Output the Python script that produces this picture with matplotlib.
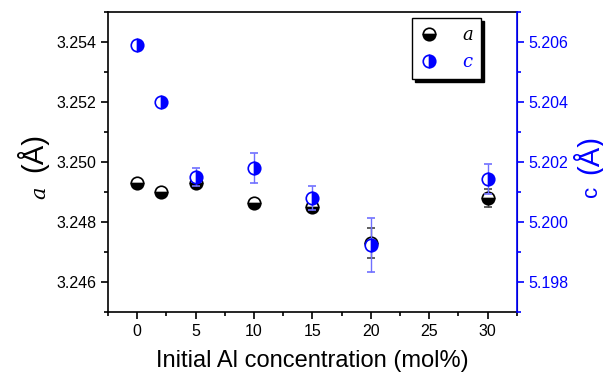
import matplotlib.pyplot as plt
from matplotlib.ticker import MultipleLocator

plt.rcParams['font.family'] = ['Liberation Sans', 'DejaVu Sans']
plt.rcParams['mathtext.fontset'] = 'stix'

# Al concentration (mol%)
conc = [0, 2, 5, 10, 15, 20, 30]
# lattice parameter a (left axis) and c (right axis), in Angstrom
a_val = [3.24931, 3.2490, 3.24929, 3.24862, 3.24851, 3.24729, 3.24879]
a_err = [0.00005, 0.00005, 0.0001, 0.00005, 0.0001, 0.0005, 0.0003]
c_val = [5.20591, 5.20401, 5.20151, 5.20181, 5.20081, 5.19922, 5.20142]
c_err = [0.0, 0.0, 0.0003, 0.0005, 0.0004, 0.0009, 0.0005]

fig = plt.figure(figsize=(6.03, 3.73), dpi=100)
ax = fig.add_axes([0.179, 0.1635, 0.678, 0.804])
ax2 = ax.twinx()

# a series, black circle with bottom half filled
ha = ax.errorbar(conc, a_val, yerr=a_err, fmt='o', color='black', ecolor='#444444',
                 elinewidth=1, capsize=3, markersize=9, fillstyle='bottom',
                 markerfacecoloralt='white', markeredgewidth=1.2, zorder=3)
# c series, blue circle with right half filled
hc = ax2.errorbar(conc, c_val, yerr=c_err, fmt='o', color='blue', ecolor='#6f6fff',
                  elinewidth=1, capsize=3, markersize=9, fillstyle='right',
                  markerfacecoloralt='white', markeredgewidth=1.2, zorder=3)

ax.set_xlim(-2.5, 32.5)
ax.set_ylim(3.245, 3.255)
ax2.set_ylim(5.197, 5.207)

ax.xaxis.set_major_locator(MultipleLocator(5))
ax.xaxis.set_minor_locator(MultipleLocator(2.5))
ax.yaxis.set_major_locator(MultipleLocator(0.002))
ax.yaxis.set_minor_locator(MultipleLocator(0.001))
ax2.yaxis.set_major_locator(MultipleLocator(0.002))
ax2.yaxis.set_minor_locator(MultipleLocator(0.001))
ax.yaxis.set_major_formatter(plt.FormatStrFormatter('%.3f'))
ax2.yaxis.set_major_formatter(plt.FormatStrFormatter('%.3f'))

ax.tick_params(which='both', direction='out', labelsize=11.5, width=1.2)
ax.tick_params(which='major', length=5)
ax.tick_params(which='minor', length=3)
ax2.tick_params(which='both', direction='out', labelsize=11.5, width=1.2,
                color='blue', labelcolor='blue')
ax2.tick_params(which='major', length=5)
ax2.tick_params(which='minor', length=3)

for s in ['left', 'bottom', 'top']:
    ax.spines[s].set_linewidth(1.2)
ax2.spines['right'].set_color('blue')
ax2.spines['right'].set_linewidth(1.2)
for s in ['left', 'bottom', 'top']:
    ax2.spines[s].set_visible(False)

ax.set_xlabel('Initial Al concentration (mol%)', fontsize=17, labelpad=8)

# axis titles built from two pieces: small symbol + larger unit
fig.text(40 / 603, 1 - 193 / 373, 'a', fontsize=15, family='serif', style='italic',
         rotation=90, ha='center', va='center')
fig.text(32 / 603, 1 - 152 / 373, '(Å)', fontsize=21, rotation=90,
         ha='center', va='center')
fig.text(592 / 603, 1 - 191 / 373, 'c', fontsize=16, color='blue',
         rotation=90, ha='center', va='center')
fig.text(588 / 603, 1 - 154 / 373, '(Å)', fontsize=21, color='blue', rotation=90,
         ha='center', va='center')

leg = ax2.legend([ha[0], hc[0]], ['a', 'c'], loc='upper right',
                 bbox_to_anchor=(0.912, 0.98), borderaxespad=0, frameon=True,
                 fancybox=False, shadow={'color': 'black', 'alpha': 1},
                 edgecolor='black', handlelength=1.0, handletextpad=1.3,
                 borderpad=0.45, labelspacing=0.5, markerscale=1.0,
                 prop={'size': 13})
leg.get_frame().set_linewidth(1)
for t, col in zip(leg.get_texts(), ['black', 'blue']):
    t.set_color(col)
    t.set_fontfamily('serif')
    t.set_fontstyle('italic')

fig.savefig('out.png', dpi=100)
